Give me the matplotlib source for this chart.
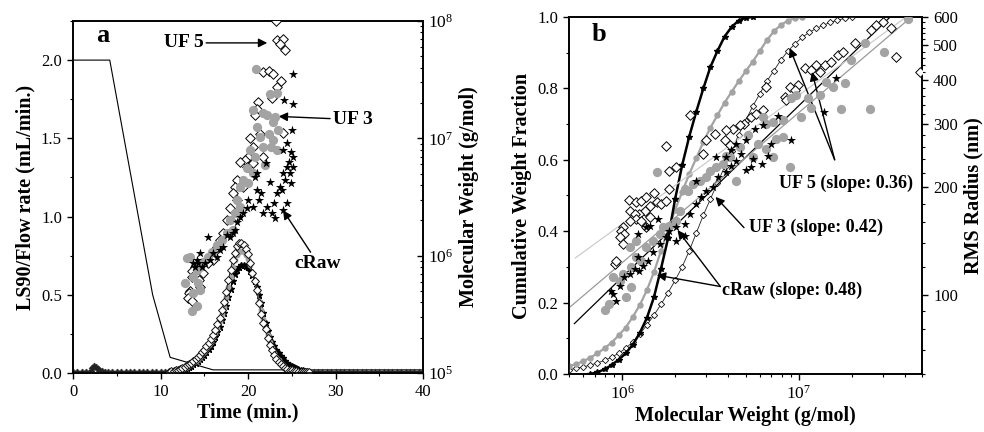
import numpy as np
import matplotlib
matplotlib.use('Agg')
import matplotlib.pyplot as plt
from matplotlib.ticker import MultipleLocator, FixedLocator, NullFormatter, FormatStrFormatter, LogLocator

plt.rcParams['font.family'] = 'serif'
plt.rcParams['font.serif'] = ['Liberation Serif', 'DejaVu Serif']
plt.rcParams['mathtext.fontset'] = 'stix'

# ---------------- panel a data ----------------
# flow rate program (mL/min)
flow_t = [0, 4.2, 9.1, 11.1, 16.0, 40]
flow_rate = [2.0, 2.0, 0.5, 0.1, 0.02, 0.02]

# LS90 signal, peak region sampled every 0.25 min from 11 to 27 min
peak_t = np.arange(11, 27.001, 0.25)
ls_uf5 = [0.008, 0.011, 0.014, 0.017, 0.021, 0.026, 0.032, 0.039,
          0.048, 0.057, 0.067, 0.078, 0.090, 0.102, 0.115, 0.132,
          0.150, 0.170, 0.192, 0.217, 0.245, 0.276, 0.310, 0.350,
          0.400, 0.455, 0.520, 0.595, 0.660, 0.725, 0.770, 0.810,
          0.830, 0.832, 0.820, 0.795, 0.760, 0.705, 0.640, 0.585,
          0.530, 0.450, 0.380, 0.320, 0.280, 0.225, 0.180, 0.145,
          0.115, 0.092, 0.073, 0.058, 0.045, 0.034, 0.026, 0.020,
          0.016, 0.013, 0.010, 0.009, 0.008, 0.007, 0.007, 0.006, 0.006]
ls_uf3 = [0.007, 0.009, 0.012, 0.015, 0.018, 0.022, 0.027, 0.033,
          0.041, 0.049, 0.058, 0.068, 0.079, 0.091, 0.104, 0.119,
          0.136, 0.155, 0.176, 0.200, 0.227, 0.257, 0.290, 0.330,
          0.375, 0.425, 0.485, 0.550, 0.615, 0.675, 0.720, 0.755,
          0.775, 0.780, 0.775, 0.757, 0.728, 0.690, 0.642, 0.585,
          0.525, 0.462, 0.400, 0.342, 0.290, 0.240, 0.195, 0.158,
          0.128, 0.102, 0.080, 0.062, 0.048, 0.037, 0.028, 0.021,
          0.016, 0.013, 0.010, 0.009, 0.008, 0.007, 0.007, 0.006, 0.006]
ls_craw = [0.006, 0.008, 0.010, 0.012, 0.015, 0.018, 0.022, 0.027,
           0.032, 0.039, 0.046, 0.055, 0.064, 0.075, 0.087, 0.100,
           0.115, 0.132, 0.152, 0.175, 0.200, 0.228, 0.260, 0.297,
           0.340, 0.385, 0.430, 0.485, 0.540, 0.590, 0.630, 0.660,
           0.680, 0.690, 0.690, 0.685, 0.675, 0.655, 0.625, 0.590,
           0.550, 0.500, 0.450, 0.385, 0.320, 0.270, 0.230, 0.200,
           0.175, 0.150, 0.130, 0.111, 0.094, 0.079, 0.065, 0.054,
           0.045, 0.037, 0.030, 0.025, 0.020, 0.016, 0.013, 0.011, 0.009]

# LS90 baseline outside the peak
base_t_left = [0.0, 0.5, 1.0, 1.5, 2.0, 2.2, 2.4, 2.6, 2.8, 3.0, 3.3, 3.6, 4.0,
               4.5, 5.0, 5.5, 6.0, 6.5, 7.0, 7.5, 8.0, 8.5, 9.0, 9.5, 10.0, 10.5]
base_y_left = [0.008, 0.008, 0.009, 0.008, 0.010, 0.035, 0.045, 0.040, 0.028, 0.018,
               0.011, 0.009, 0.008, 0.008, 0.008, 0.008, 0.008, 0.008, 0.008, 0.007,
               0.007, 0.007, 0.007, 0.007, 0.007, 0.007]
base_t_right = [27.5, 28.0, 28.5, 29.0, 29.5, 30.0, 30.5, 31.0, 31.5, 32.0, 32.5, 33.0,
                33.5, 34.0, 34.5, 35.0, 35.5, 36.0, 36.5, 37.0, 37.5, 38.0, 38.5, 39.0,
                39.5, 40.0]
base_y_right = [0.006, 0.006, 0.006, 0.006, 0.006, 0.006, 0.006, 0.006, 0.006, 0.006,
                0.006, 0.006, 0.006, 0.006, 0.006, 0.006, 0.006, 0.006, 0.006, 0.006,
                0.006, 0.006, 0.006, 0.006, 0.006, 0.006]

# molecular weight vs time (log10 of g/mol)
mw_t_uf5 = [23.2, 23.36, 23.97, 24.24, 23.66, 21.76, 22.44, 22.9, 23.28, 23.78, 22.75, 21.18,
            23.97, 20.99, 20.8, 20.23, 21.37, 20.53, 21.76, 20.04, 19.66, 20.61, 19.85, 19.08,
            19.0, 19.47, 18.78, 18.51, 17.94, 18.78, 18.32, 17.56, 18.7, 16.79, 17.18, 16.41,
            16.03, 15.46, 14.89, 14.43, 13.93, 13.55, 13.55, 13.36, 13.28, 13.17, 13.55, 14.5]
mw_log_uf5 = [8.0, 7.835, 7.85, 7.756, 7.807, 7.566, 7.574, 7.546, 7.438, 7.487, 7.345, 7.311,
              7.047, 7.254, 7.197, 6.999, 7.041, 6.928, 6.843, 6.843, 6.815, 6.786, 6.758, 6.8,
              6.63, 6.588, 6.644, 6.588, 6.403, 6.474, 6.531, 6.304, 6.333, 6.134, 6.191, 6.077,
              5.964, 5.936, 5.851, 5.794, 5.907, 5.865, 5.822, 5.695, 5.681, 5.638, 5.61, 5.737]
mw_t_uf3 = [20.92, 22.52, 20.61, 21.76, 22.14, 23.09, 22.82, 22.44, 23.47, 20.99, 21.37, 22.9,
            21.76, 23.28, 22.6, 20.8, 20.23, 19.85, 20.61, 21.95, 19.47, 20.04, 19.08, 18.7,
            19.08, 18.51, 17.94, 18.32, 17.56, 16.98, 16.41, 15.84, 15.46, 14.89, 14.5, 14.12,
            13.74, 12.98, 13.36, 14.31, 14.5, 13.74, 13.55, 12.79, 14.12, 23.3]
mw_log_uf3 = [7.594, 7.376, 7.24, 7.217, 7.197, 7.183, 7.141, 7.041, 7.075, 7.098, 7.013, 6.985,
              6.928, 6.9, 6.928, 6.843, 6.9, 6.744, 6.701, 6.772, 6.644, 6.616, 6.588, 6.474,
              6.418, 6.361, 6.304, 6.219, 6.191, 6.134, 6.092, 6.035, 5.992, 5.95, 5.907, 5.879,
              5.822, 5.978, 5.992, 5.766, 5.709, 5.681, 5.525, 5.771, 5.567, 7.39]
mw_t_craw = [25.19, 25.11, 25.08, 24.12, 24.88, 25.11, 24.73, 24.43, 24.05, 24.24, 24.92, 23.85,
             23.66, 24.5, 23.97, 23.09, 22.98, 22.14, 21.76, 22.52, 22.06, 23.28, 21.45, 20.99,
             20.8, 21.3, 20.61, 20.04, 19.47, 19.85, 19.08, 18.78, 18.51, 17.94, 17.56, 18.32,
             17.18, 16.79, 16.41, 16.03, 15.65, 15.46, 15.08, 14.69, 14.31, 13.93, 14.12, 14.5,
             13.74, 20.99, 22.71, 24.05, 24.43, 24.81, 25.19]
mw_log_craw = [7.546, 7.291, 7.07, 7.325, 6.885, 6.843, 6.8, 6.758, 6.701, 6.644, 6.616, 6.559,
               6.588, 6.452, 6.389, 6.318, 6.446, 6.418, 6.361, 6.63, 6.786, 6.531, 6.531, 6.559,
               6.673, 6.474, 6.418, 6.474, 6.361, 6.404, 6.333, 6.29, 6.219, 6.162, 6.177, 6.191,
               6.077, 6.049, 5.992, 6.021, 5.964, 6.162, 5.936, 5.907, 5.936, 5.907, 5.964, 6.021,
               5.936, 6.701, 6.361, 6.9, 6.956, 6.701, 6.758]

# ---------------- panel b data ----------------
# cumulative weight fraction vs log10(M)
cum_logm_craw = np.arange(5.82, 6.741, 0.04)
cum_craw = [0.000, 0.005, 0.013, 0.025, 0.040, 0.058, 0.082, 0.115, 0.157, 0.215, 0.295, 0.380,
            0.490, 0.585, 0.665, 0.735, 0.800, 0.860, 0.905, 0.945, 0.972, 0.990, 0.998, 1.000]
cum_logm_uf3 = np.arange(5.70, 7.021, 0.04)
cum_uf3 = [0.022, 0.028, 0.036, 0.046, 0.058, 0.072, 0.088, 0.108, 0.130, 0.160, 0.193, 0.235,
           0.285, 0.345, 0.405, 0.460, 0.510, 0.560, 0.605, 0.650, 0.690, 0.725, 0.760, 0.790,
           0.820, 0.848, 0.875, 0.905, 0.935, 0.960, 0.978, 0.990, 0.997, 1.000]
cum_logm_uf5 = np.arange(5.70, 7.301, 0.04)
cum_uf5 = [0.012, 0.016, 0.020, 0.025, 0.031, 0.038, 0.047, 0.058, 0.072, 0.090, 0.112, 0.137,
           0.165, 0.195, 0.228, 0.262, 0.300, 0.345, 0.395, 0.445, 0.490, 0.535, 0.580, 0.625,
           0.670, 0.710, 0.750, 0.785, 0.820, 0.850, 0.880, 0.905, 0.925, 0.943, 0.957, 0.968,
           0.977, 0.985, 0.991, 0.996, 0.999]

# RMS radius vs molecular weight (log10 M, log10 R[nm])
rg_logm_uf5 = [6.25, 6.038, 6.047, 6.079, 6.108, 6.136, 6.183, 6.155, 6.127, 6.098, 6.07, 6.197,
               6.221, 6.25, 6.268, 6.079, 6.042, 6.004, 5.994, 6.013, 5.985, 6.004, 5.957, 5.966,
               6.108, 6.155, 6.136, 6.382, 6.268, 6.306, 6.457, 6.476, 6.524, 6.817, 6.921, 6.949,
               6.996, 6.977, 6.93, 7.034, 7.072, 7.1, 7.119, 7.147, 7.185, 7.223, 7.251, 7.318,
               7.412, 7.44, 7.478, 7.526, 7.554, 7.686, 6.731, 6.693, 6.665, 6.628, 6.59, 6.58,
               6.609, 6.798, 6.76]
rg_logr_uf5 = [2.417, 2.266, 2.236, 2.259, 2.264, 2.273, 2.285, 2.25, 2.236, 2.227, 2.227, 2.259,
               2.255, 2.264, 2.297, 2.213, 2.208, 2.189, 2.18, 2.17, 2.161, 2.142, 2.086, 2.096,
               2.208, 2.217, 2.189, 2.503, 2.348, 2.358, 2.395, 2.433, 2.451, 2.582, 2.554, 2.582,
               2.587, 2.573, 2.545, 2.634, 2.629, 2.643, 2.625, 2.643, 2.653, 2.671, 2.681, 2.704,
               2.742, 2.756, 2.765, 2.746, 2.667, 2.625, 2.498, 2.479, 2.475, 2.465, 2.461, 2.433,
               2.419, 2.517, 2.507]
rg_logm_uf3 = [6.197, 5.9, 5.947, 5.985, 6.004, 6.051, 6.079, 6.108, 6.136, 6.174, 6.212, 6.231,
               6.268, 6.306, 6.325, 6.354, 6.372, 6.401, 6.439, 6.476, 6.495, 6.533, 6.571, 6.646,
               6.609, 6.051, 6.023, 5.928, 6.042, 6.079, 7.62, 7.374, 7.298, 7.482, 7.261, 7.195,
               7.157, 7.119, 7.053, 6.987, 6.958, 7.072, 7.015, 6.911, 6.854, 6.817, 6.798, 7.242,
               7.402, 6.911, 6.873, 6.949, 6.817, 6.741, 6.769, 6.712, 6.665, 6.59, 6.854]
rg_logr_uf3 = [2.344, 1.957, 2.049, 2.039, 2.058, 2.077, 2.105, 2.096, 2.133, 2.152, 2.17, 2.189,
               2.194, 2.208, 2.236, 2.297, 2.292, 2.311, 2.32, 2.33, 2.348, 2.358, 2.367, 2.32,
               2.386, 2.021, 1.993, 1.974, 2.133, 2.152, 2.772, 2.704, 2.657, 2.681, 2.594, 2.582,
               2.596, 2.559, 2.552, 2.559, 2.55, 2.522, 2.498, 2.489, 2.484, 2.479, 2.498, 2.52,
               2.52, 2.442, 2.437, 2.358, 2.409, 2.386, 2.423, 2.447, 2.414, 2.39, 2.386]
rg_logm_craw = [5.947, 5.966, 5.938, 5.985, 6.013, 6.042, 6.07, 6.098, 6.117, 6.146, 6.089, 6.174,
                6.212, 6.25, 6.268, 6.306, 6.354, 6.382, 6.42, 6.448, 6.476, 6.514, 6.543, 6.59,
                6.618, 6.646, 6.202, 6.155, 6.136, 6.089, 6.533, 6.42, 6.354, 6.306, 7.214, 7.142,
                6.958, 6.845, 6.826, 6.794, 6.741, 6.731, 6.703, 6.675, 6.75, 6.798, 6.882, 6.703,
                6.646, 6.618, 6.59]
rg_logr_craw = [2.002, 1.983, 2.011, 2.025, 2.049, 2.058, 2.072, 2.067, 2.081, 2.096, 2.105, 2.119,
                2.142, 2.161, 2.18, 2.189, 2.199, 2.227, 2.255, 2.273, 2.292, 2.301, 2.33, 2.344,
                2.362, 2.376, 2.213, 2.194, 2.189, 2.17, 2.386, 2.32, 2.166, 2.152, 2.606, 2.512,
                2.433, 2.423, 2.39, 2.367, 2.381, 2.358, 2.35, 2.395, 2.465, 2.475, 2.5, 2.433,
                2.423, 2.405, 2.386]

# power-law fits R = R(1e6) * (M/1e6)^slope
fit_names = ['cRaw', 'UF 3', 'UF 5']
fit_slopes = [0.48, 0.42, 0.36]
fit_r_1e6 = [112, 123, 158]
fit_m_start = [5.36e5, 5.0e5, 5.43e5]
fit_m_end = [3.3e7, 4.35e7, 4.0e7]
fit_colors = ['black', '#9a9a9a', '#cdcdcd']

GREY = '#a3a3a3'
BOLD = dict(fontweight='bold')
arrow = dict(arrowstyle='-|>', color='black', lw=1.0, mutation_scale=13, shrinkA=0, shrinkB=0)

fig = plt.figure(figsize=(9.84, 4.32), dpi=100)


def style_spines(axis):
    for s in axis.spines.values():
        s.set_linewidth(1.2)


# ================= PANEL A =================
ax = fig.add_axes([0.0742, 0.1366, 0.3557, 0.8148])
ax.plot(flow_t, flow_rate, color='black', lw=0.8, zorder=2)

for tt, yy in ((base_t_left, base_y_left), (base_t_right, base_y_right)):
    ax.plot(tt, yy, ls='-', lw=0.8, color='#333333', marker='D', ms=3.4, mfc='white',
            mec='#333333', mew=0.6, zorder=3)
    ax.plot(tt, yy, ls='none', marker='*', ms=3.4, color='#222222', zorder=3)

ax.plot(peak_t, ls_craw, ls='-', lw=1.0, color='black', marker='*', ms=4.6, zorder=3)
ax.plot(peak_t, ls_uf3, ls='-', lw=1.0, color=GREY, marker='o', ms=3.2, mec=GREY, zorder=4)
ax.plot(peak_t, ls_uf5, ls='-', lw=0.7, color='#222222', marker='D', ms=3.7, mfc='white',
        mec='#111111', mew=0.7, zorder=5)

ax.set_xlim(0, 40)
ax.set_ylim(0, 2.25)
ax.xaxis.set_major_locator(MultipleLocator(10))
ax.xaxis.set_minor_locator(MultipleLocator(5))
ax.yaxis.set_major_locator(MultipleLocator(0.5))
ax.yaxis.set_minor_locator(MultipleLocator(0.25))
ax.yaxis.set_major_formatter(FormatStrFormatter('%.1f'))
ax.tick_params(which='both', direction='out', labelsize=12)
ax.tick_params(which='major', length=4.5, width=1)
ax.tick_params(which='minor', length=2.5, width=0.8)
ax.set_xlabel('Time (min.)', fontsize=14.5, labelpad=2, **BOLD)
ax.set_ylabel('LS90/Flow rate (mL/min.)', fontsize=14.5, labelpad=4, **BOLD)
style_spines(ax)

ax2 = ax.twinx()
ax2.set_yscale('log')
ax2.scatter(mw_t_uf5, 10 ** np.array(mw_log_uf5), marker='D', s=24, facecolors='white',
            edgecolors='black', linewidths=0.7, zorder=3)
ax2.scatter(mw_t_uf3, 10 ** np.array(mw_log_uf3), marker='o', s=32, color=GREY, zorder=4)
ax2.scatter(mw_t_craw, 10 ** np.array(mw_log_craw), marker='*', s=48, color='black',
            linewidths=0, zorder=5)
ax2.set_ylim(1e5, 1e8)
ax2.yaxis.set_major_locator(LogLocator(base=10))
ax2.yaxis.set_minor_locator(LogLocator(base=10, subs=np.arange(2, 10)))
ax2.yaxis.set_minor_formatter(NullFormatter())
ax2.tick_params(which='both', direction='in', labelsize=12.5)
ax2.tick_params(which='major', length=4.5, width=1)
ax2.tick_params(which='minor', length=2.5, width=0.8)
ax2.set_ylabel('Molecular Weight (g/mol)', fontsize=14.5, labelpad=4, **BOLD)
style_spines(ax2)

ax2.text(0.065, 0.958, 'a', transform=ax2.transAxes, fontsize=19, va='center', **BOLD)
ax2.annotate('UF 5', xy=(22.2, 2.11), xytext=(14.9, 2.11), xycoords=ax.transData,
             textcoords=ax.transData, ha='right', va='center', fontsize=14, arrowprops=arrow, **BOLD)
ax2.annotate('UF 3', xy=(23.5, 1.64), xytext=(29.7, 1.62), xycoords=ax.transData,
             textcoords=ax.transData, ha='left', va='center', fontsize=14, arrowprops=arrow, **BOLD)
ax2.annotate('cRaw', xy=(24.0, 1.04), xytext=(28.0, 0.70), xycoords=ax.transData,
             textcoords=ax.transData, ha='center', va='center', fontsize=14, arrowprops=arrow, **BOLD)

# ================= PANEL B =================
bx = fig.add_axes([0.5783, 0.1343, 0.3587, 0.8264])
bx.set_xscale('log')
bx.plot(10 ** cum_logm_uf5, cum_uf5, ls='-', lw=0.6, color='#222222', marker='D', ms=3.2,
        mfc='white', mec='#111111', mew=0.6, zorder=3)
bx.plot(10 ** cum_logm_uf3, cum_uf3, ls='-', lw=1.6, color=GREY, marker='o', ms=3.6,
        mec=GREY, zorder=4)
bx.plot(10 ** cum_logm_craw, cum_craw, ls='-', lw=1.8, color='black', marker='*', ms=4.4, zorder=5)
bx.set_xlim(5e5, 5e7)
bx.set_ylim(0, 1)
bx.xaxis.set_major_locator(LogLocator(base=10))
bx.xaxis.set_minor_locator(LogLocator(base=10, subs=np.arange(2, 10)))
bx.xaxis.set_minor_formatter(NullFormatter())
bx.yaxis.set_major_locator(MultipleLocator(0.2))
bx.yaxis.set_minor_locator(MultipleLocator(0.1))
bx.yaxis.set_major_formatter(FormatStrFormatter('%.1f'))
bx.tick_params(which='both', direction='out', labelsize=12)
bx.tick_params(axis='x', which='major', labelsize=12.5)
bx.tick_params(which='major', length=4.5, width=1)
bx.tick_params(which='minor', length=2.5, width=0.8)
bx.set_xlabel('Molecular Weight (g/mol)', fontsize=14.5, labelpad=2, **BOLD)
bx.set_ylabel('Cumulative Weight Fraction', fontsize=14.5, labelpad=4, **BOLD)
style_spines(bx)

bx2 = bx.twinx()
bx2.set_yscale('log')
for name, sl, r0, m0, m1, col in zip(fit_names, fit_slopes, fit_r_1e6, fit_m_start, fit_m_end, fit_colors):
    mm = np.array([m0, m1])
    bx2.plot(mm, r0 * (mm / 1e6) ** sl, color=col, lw=0.9, zorder=2)
bx2.scatter(10 ** np.array(rg_logm_uf5), 10 ** np.array(rg_logr_uf5), marker='D', s=24,
            facecolors='white', edgecolors='black', linewidths=0.7, zorder=3)
bx2.scatter(10 ** np.array(rg_logm_uf3), 10 ** np.array(rg_logr_uf3), marker='o', s=32,
            color=GREY, zorder=4)
bx2.scatter(10 ** np.array(rg_logm_craw), 10 ** np.array(rg_logr_craw), marker='*', s=48,
            color='black', linewidths=0, zorder=5)
bx2.set_ylim(60, 600)
bx2.yaxis.set_major_locator(FixedLocator([100, 200, 300, 400, 500, 600]))
bx2.yaxis.set_major_formatter(FormatStrFormatter('%d'))
bx2.yaxis.set_minor_locator(FixedLocator([60, 70, 80, 90] + [v for v in range(120, 600, 20) if v % 100]))
bx2.yaxis.set_minor_formatter(NullFormatter())
bx2.tick_params(which='both', direction='out', labelsize=12)
bx2.tick_params(which='major', length=4.5, width=1)
bx2.tick_params(which='minor', length=2.5, width=0.8)
bx2.set_ylabel('RMS Radius (nm)', fontsize=14.5, labelpad=4, **BOLD)
style_spines(bx2)

bx2.text(0.065, 0.95, 'b', transform=bx2.transAxes, fontsize=19, va='center', **BOLD)
T = bx.transData
bx2.text(1.85e7, 0.535, 'UF 5 (slope: 0.36)', transform=T, ha='center', va='center',
         fontsize=13, **BOLD)
bx2.annotate('', xy=(8.9e6, 0.913), xytext=(1.6e7, 0.60), xycoords=T, textcoords=T, arrowprops=arrow)
bx2.annotate('', xy=(1.19e7, 0.846), xytext=(1.6e7, 0.60), xycoords=T, textcoords=T, arrowprops=arrow)
bx2.text(5.2e6, 0.412, 'UF 3 (slope: 0.42)', transform=T, ha='left', va='center',
         fontsize=13, **BOLD)
bx2.annotate('', xy=(3.38e6, 0.496), xytext=(4.9e6, 0.41), xycoords=T, textcoords=T, arrowprops=arrow)
bx2.text(3.66e6, 0.235, 'cRaw (slope: 0.48)', transform=T, ha='left', va='center',
         fontsize=13, **BOLD)
bx2.annotate('', xy=(2.06e6, 0.403), xytext=(3.6e6, 0.245), xycoords=T, textcoords=T, arrowprops=arrow)
bx2.annotate('', xy=(1.57e6, 0.277), xytext=(3.6e6, 0.245), xycoords=T, textcoords=T, arrowprops=arrow)

fig.savefig('out.png', dpi=100)
